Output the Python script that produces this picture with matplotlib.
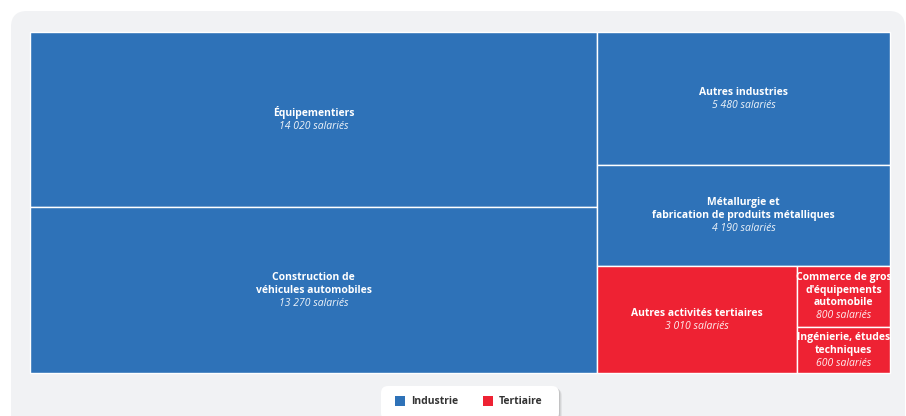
import matplotlib.pyplot as plt
from matplotlib.patches import Rectangle, FancyBboxPatch

plt.rcParams['font.family'] = ['Open Sans', 'DejaVu Sans']

names = ["Équipementiers", "Construction de\nvéhicules automobiles", "Autres industries",
         "Métallurgie et\nfabrication de produits métalliques", "Autres activités tertiaires",
         "Commerce de gros\nd'équipements\nautomobile", "Ingénierie, études\ntechniques"]
values = [14020, 13270, 5480, 4190, 3010, 800, 600]
groups = ["Industrie", "Industrie", "Industrie", "Industrie", "Tertiaire", "Tertiaire", "Tertiaire"]
colors = {"Industrie": "#2e72b8", "Tertiaire": "#ee2233"}

# nesting of the layout: indices of leaves, split direction alternates
tree = [[0, 1], [2, 3, [4, [5, 6]]]]


def total(node):
    if isinstance(node, list):
        return sum(total(n) for n in node)
    return values[node]


def layout(node, x, y, w, h, horizontal, out):
    if not isinstance(node, list):
        out[node] = (x, y, w, h)
        return
    s = total(node)
    pos = 0.0
    for child in node:
        f = total(child) / s
        if horizontal:
            layout(child, x + pos * w, y, f * w, h, not horizontal, out)
        else:
            layout(child, x, y + pos * h, w, f * h, not horizontal, out)
        pos += f


def fmt(v):
    return f"{v:,}".replace(",", " ") + " salariés"


fig = plt.figure(figsize=(9.06, 4.16), dpi=100)
ax = fig.add_axes([0, 0, 1, 1])
ax.set_xlim(0, 906)
ax.set_ylim(416, 0)
ax.axis('off')

# background panel
ax.add_patch(FancyBboxPatch((11, 11), 894, 440, boxstyle="round,pad=0,rounding_size=16",
                            fc="#f1f2f4", ec="none"))

rects = {}
layout(tree, 30, 32, 860, 341, True, rects)

lh = 12.5
for i, (x, y, w, h) in rects.items():
    ax.add_patch(Rectangle((x, y), w, h, fc=colors[groups[i]], ec="white", lw=1))
    cx, cy = x + w / 2, y + h / 2
    lines = names[i].split("\n")
    span = (len(lines) - 1) * lh + 13
    first = cy - 1 - span / 2
    for k, line in enumerate(lines):
        ax.text(cx, first + k * lh + 3.7, line, ha="center", va="baseline", color="white",
                fontsize=7.5, fontweight="bold")
    ax.text(cx, first + span + 3.7, fmt(values[i]), ha="center", va="baseline",
            color="white", fontsize=7.5, style="italic", alpha=0.92)

# legend
for d, a in [(3, 0.15), (2, 0.2), (1, 0.3)]:
    ax.add_patch(FancyBboxPatch((381 + d, 386 + d), 178, 34,
                                boxstyle="round,pad=0,rounding_size=7",
                                fc="#999999", ec="none", alpha=a))
ax.add_patch(FancyBboxPatch((381, 386), 178, 34, boxstyle="round,pad=0,rounding_size=7",
                            fc="white", ec="none"))
for label, lx in [("Industrie", 395), ("Tertiaire", 483)]:
    ax.add_patch(Rectangle((lx, 396), 10, 10, fc=colors[label], ec="none"))
    ax.text(lx + 16, 401.5, label, ha="left", va="center", fontsize=7.5,
            fontweight="bold", color="#333333")

fig.savefig("out.png", dpi=100)
